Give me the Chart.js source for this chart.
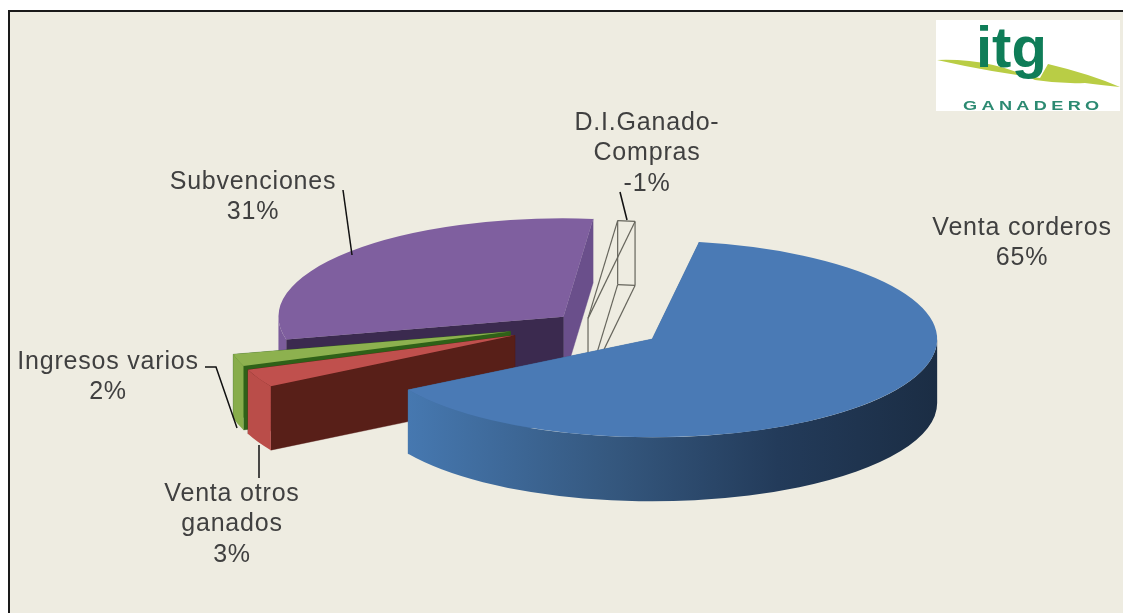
<!DOCTYPE html>
<html><head><meta charset="utf-8">
<style>html,body{margin:0;padding:0;background:#fff;overflow:hidden}canvas{display:block}</style>
<script src="https://cdn.jsdelivr.net/npm/chart.js@4"></script>
</head><body><canvas id="c" width="1123" height="613"></canvas>
<script>
const categories = ["Venta corderos","Venta otros ganados","Ingresos varios","Subvenciones","D.I.Ganado-Compras"];
const shares = [65,3,2,31,-1];
const labelLines = [["Venta corderos"],["Venta otros","ganados"],["Ingresos varios"],["Subvenciones"],["D.I.Ganado-","Compras"]];
const topColors = ["#4a7ab5","#c0504d","#8db14f","#7f5f9f","rgba(0,0,0,0)"];

const PIE = {cx:586, cy:323.5, k:0.345, depth:64, radius:285, rotation:9.5};
const explode = [80,79,79,30,15];
const walls = [
  {start:"#3f6c9f", end:"#3f6c9f", rim:[[0,"#1b2d44"],[0.3,"#233b5a"],[0.62,"#35587f"],[1,"#4678b0"]]},
  {start:"#581f18", end:"#581f18", rim:[[0,"#ba4d49"],[1,"#ba4d49"]]},
  {start:"#2f6118", end:"#2f6118", rim:[[0,"#88ad4b"],[1,"#88ad4b"]]},
  {start:"#3b2a4f", end:"#6a4f8b", rim:[[0,"#7b5c9b"],[1,"#7b5c9b"]]},
  null
];
const paintOrder = [3,4,2,1,0];
const labelPos = [
  {x:1022,y:228,lead:[]},
  {x:232,y:494,lead:[[259,445],[259,478]]},
  {x:108,y:362,lead:[[205,367],[216,367],[237,428]]},
  {x:253,y:182,lead:[[343,190],[352,255]]},
  {x:647,y:123,lead:[[620,192],[627,220]]}
];
const LINE_H = 30.5;

function wedgeApex(el,i){
  const mid=(el.startAngle+el.endAngle)/2;
  return {x:el.x+Math.cos(mid)*explode[i], y:el.y+Math.sin(mid)*explode[i]};
}
function poly(ctx,pts,fill){
  ctx.beginPath();pts.forEach((p,j)=>j?ctx.lineTo(p[0],p[1]):ctx.moveTo(p[0],p[1]));ctx.closePath();
  ctx.fillStyle=fill;ctx.fill();ctx.strokeStyle=fill;ctx.lineWidth=.6;ctx.stroke();
}
const pie3d = {
  id:'pie3d',
  beforeDraw(chart){
    const ctx=chart.ctx,W=chart.width,H=chart.height;
    ctx.save();
    ctx.fillStyle='#fff';ctx.fillRect(0,0,W,H);
    ctx.fillStyle='#eeece1';ctx.fillRect(9,11,W-9,H-11);
    ctx.fillStyle='#1a1a1a';ctx.fillRect(8,10,W-8,2);ctx.fillRect(8,10,2,H-10);
    ctx.restore();
  },
  beforeDatasetsDraw(chart){
    const ctx=chart.ctx,meta=chart.getDatasetMeta(0),k=PIE.k;
    const d=PIE.depth/k;
    const first=meta.data[0];
    ctx.save();
    ctx.translate(PIE.cx,PIE.cy);ctx.scale(1,k);ctx.translate(-first.x,-first.y);
    paintOrder.forEach(i=>{
      const el=meta.data[i],a=wedgeApex(el,i),r=el.outerRadius,s=el.startAngle,e=el.endAngle;
      const P1=[a.x+Math.cos(s)*r,a.y+Math.sin(s)*r],P2=[a.x+Math.cos(e)*r,a.y+Math.sin(e)*r];
      const w=walls[i];
      if(w){
        poly(ctx,[[a.x,a.y],P2,[P2[0],P2[1]+d],[a.x,a.y+d]],w.end);
        poly(ctx,[[a.x,a.y],P1,[P1[0],P1[1]+d],[a.x,a.y+d]],w.start);
        const a0=Math.max(s,0),a1=Math.min(e,Math.PI);
        if(a1>a0){
          const xL=a.x+Math.cos(a1)*r,xR=a.x+Math.cos(a0)*r;
          const g=ctx.createLinearGradient(xR,0,xL,0);
          w.rim.forEach(c=>g.addColorStop(c[0],c[1]));
          ctx.beginPath();
          ctx.arc(a.x,a.y,r,a0,a1,false);
          ctx.arc(a.x,a.y+d,r,a1,a0,true);
          ctx.closePath();
          ctx.fillStyle=g;ctx.fill();
        }
      }
      ctx.save();
      ctx.translate(a.x-el.x,a.y-el.y);
      el.draw(ctx);
      ctx.restore();
      if(!w){
        const pr=p=>[PIE.cx+p[0]-first.x,PIE.cy+(p[1]-first.y)*k];
        const A=pr([a.x,a.y]),Q1=pr(P1),Q2=pr(P2),D=PIE.depth;
        ctx.save();ctx.setTransform(chart.currentDevicePixelRatio,0,0,chart.currentDevicePixelRatio,0,0);
        ctx.strokeStyle='#66655c';ctx.lineWidth=1.2;
        const segs=[[A,Q1],[A,Q2],[Q1,Q2],[[Q1[0],Q1[1]+D],[Q2[0],Q2[1]+D]],[Q1,[Q1[0],Q1[1]+D]],[Q2,[Q2[0],Q2[1]+D]],
          [[Q1[0],Q1[1]+D],[A[0],A[1]+D]],[[Q2[0],Q2[1]+D],[A[0],A[1]+D]],[A,[A[0],A[1]+D]]];
        segs.forEach(s2=>{ctx.beginPath();ctx.moveTo(s2[0][0],s2[0][1]);ctx.lineTo(s2[1][0],s2[1][1]);ctx.stroke();});
        ctx.restore();
      }
    });
    ctx.restore();
    return false;
  },
  afterDraw(chart){
    const ctx=chart.ctx;
    ctx.save();
    labelPos.forEach((p,i)=>{
      ctx.fillStyle='#404040';ctx.font='25px "Liberation Sans", Arial, sans-serif';
      ctx.letterSpacing='0.8px';
      ctx.textAlign='center';ctx.textBaseline='middle';
      const lines=labelLines[i].concat([shares[i]+'%']);
      lines.forEach((t,j)=>ctx.fillText(t,p.x,p.y+j*LINE_H));
      ctx.letterSpacing='0px';
      if(p.lead.length){
        ctx.strokeStyle='#111';ctx.lineWidth=1.5;ctx.beginPath();
        p.lead.forEach((q,j)=>j?ctx.lineTo(q[0],q[1]):ctx.moveTo(q[0],q[1]));ctx.stroke();
      }
    });
    // logo
    ctx.fillStyle='#fff';ctx.fillRect(936,20,184,91);
    ctx.fillStyle='#b9cd45';
    ctx.beginPath();ctx.moveTo(937,60);ctx.quadraticCurveTo(990,58,1035,80);ctx.quadraticCurveTo(1060,84,1085,83);
    ctx.quadraticCurveTo(1100,85,1120,87);ctx.quadraticCurveTo(1090,74,1048,64);ctx.lineTo(1040,78);ctx.quadraticCurveTo(990,72,937,60);ctx.fill();
    ctx.fillStyle='#0f7d58';ctx.textAlign='left';ctx.textBaseline='alphabetic';
    ctx.font='bold 58px "Liberation Sans", Arial, sans-serif';
    ctx.fillText('itg',976,67);
    ctx.save();
    ctx.translate(963,110);ctx.scale(1.45,1);
    ctx.font='bold 12.5px "Liberation Sans", Arial, sans-serif';
    ctx.fillStyle='#2c8a72';
    ctx.letterSpacing='3px';
    ctx.fillText('GANADERO',0,0);
    ctx.restore();
    ctx.restore();
  }
};
new Chart(document.getElementById('c'),{
  type:'pie',
  data:{labels:categories,datasets:[{data:shares,backgroundColor:topColors,borderWidth:0,clip:false}]},
  options:{responsive:false,animation:false,rotation:PIE.rotation,radius:PIE.radius,
    events:[],
    plugins:{legend:{display:false},tooltip:{enabled:false}}},
  plugins:[pie3d]
});
</script></body></html>
